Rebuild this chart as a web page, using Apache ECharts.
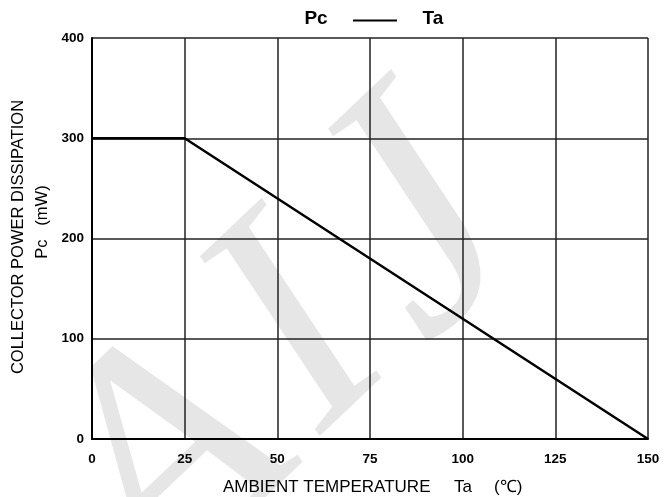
<!DOCTYPE html>
<html>
<head>
<meta charset="utf-8">
<script src="https://cdn.jsdelivr.net/npm/echarts@6/dist/echarts.min.js"></script>
<style>html,body{margin:0;padding:0;background:#fff}#c{width:665px;height:497px}</style>
</head>
<body>
<div id="c"></div>
<script>
const temperature = [0, 25, 150];
const power = [300, 300, 0];
const xTicks = [0, 25, 50, 75, 100, 125, 150];
const yTicks = [0, 100, 200, 300, 400];

const chart = echarts.init(document.getElementById('c'));
const F = '"Liberation Sans", Arial, sans-serif';
function wm(ch, x, y, size) {
  return { type: 'text', z: -10, x: x, y: y, rotation: 0.76,
    style: { text: ch, font: 'italic ' + size + 'px "Liberation Serif", serif', fill: '#e6e6e6', align: 'center', verticalAlign: 'middle' } };
}
chart.setOption({
  animation: false,
  backgroundColor: '#fff',
  grid: { left: 92, right: 17, top: 38, bottom: 58 },
  graphic: [
    wm('A', 172, 468, 325), wm('I', 301, 336, 325), wm('J', 419, 229, 345),
    { type: 'text', x: 316, y: 19,
      style: { text: 'Pc', font: 'bold 19px "Liberation Sans", Arial', fill: '#000', align: 'center', verticalAlign: 'middle' } },
    { type: 'line', shape: { x1: 353, y1: 20.5, x2: 397, y2: 20.5 }, style: { stroke: '#000', lineWidth: 2 } },
    { type: 'text', x: 433, y: 19,
      style: { text: 'Ta', font: 'bold 19px "Liberation Sans", Arial', fill: '#000', align: 'center', verticalAlign: 'middle' } },
    { type: 'text', x: 18, y: 237, rotation: Math.PI / 2,
      style: { text: 'COLLECTOR POWER DISSIPATION', font: '16.5px "Liberation Sans", Arial', fill: '#000', align: 'center', verticalAlign: 'middle' } },
    { type: 'text', x: 42, y: 222, rotation: Math.PI / 2,
      style: { text: 'Pc   (mW)', font: '16.5px "Liberation Sans", Arial', fill: '#000', align: 'center', verticalAlign: 'middle' } },
    { type: 'text', x: 223, y: 487,
      style: { text: 'AMBIENT TEMPERATURE', font: '17px "Liberation Sans", Arial', fill: '#000', align: 'left', verticalAlign: 'middle' } },
    { type: 'text', x: 454, y: 487,
      style: { text: 'Ta', font: '17px "Liberation Sans", Arial', fill: '#000', align: 'left', verticalAlign: 'middle' } },
    { type: 'text', x: 494, y: 487,
      style: { text: '(℃)', font: '17px "Liberation Sans", Arial', fill: '#000', align: 'left', verticalAlign: 'middle' } }
  ],
  xAxis: {
    type: 'value', min: 0, max: 150, interval: 25,
    axisLine: { show: true, lineStyle: { color: '#000', width: 2 } },
    axisTick: { show: false },
    splitLine: { show: true, lineStyle: { color: '#222', width: 1.5 } },
    axisLabel: { margin: 13, fontFamily: F, fontSize: 13.5, fontWeight: 'bold', color: '#000',
      customValues: xTicks }
  },
  yAxis: {
    type: 'value', min: 0, max: 400, interval: 100,
    axisLine: { show: true, lineStyle: { color: '#000', width: 2 } },
    axisTick: { show: false },
    splitLine: { show: true, lineStyle: { color: '#222', width: 1.5 } },
    axisLabel: { margin: 8, fontFamily: F, fontSize: 13.5, fontWeight: 'bold', color: '#000',
      customValues: yTicks }
  },
  series: [{
    type: 'line', data: temperature.map((t, i) => [t, power[i]]),
    symbol: 'none', lineStyle: { color: '#000', width: 2.5 }, z: 5
  }]
});
</script>
</body>
</html>
